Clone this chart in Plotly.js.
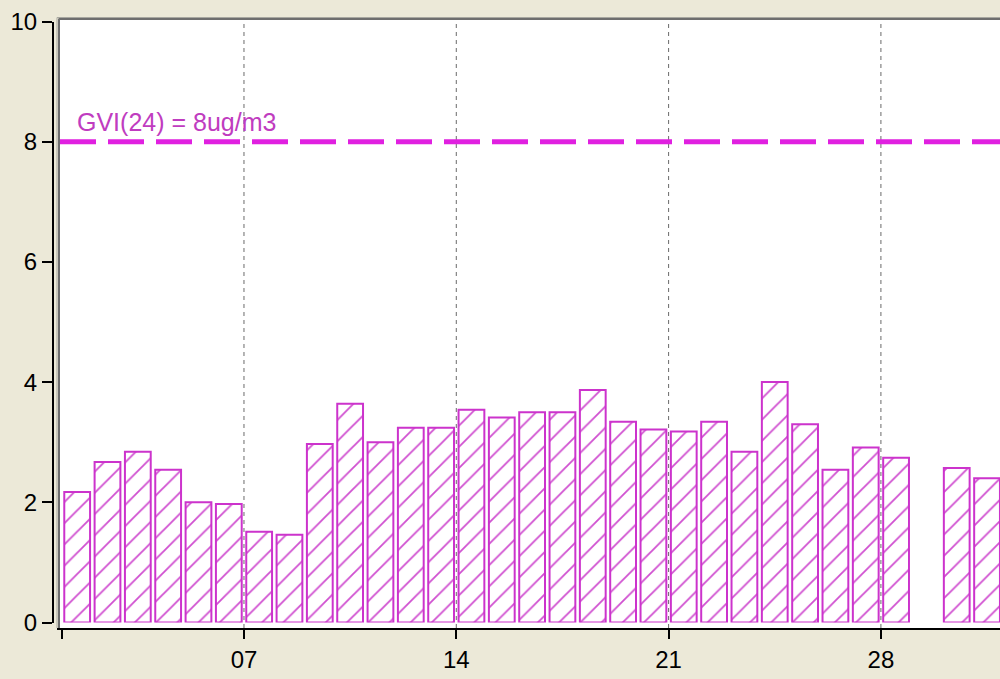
<!DOCTYPE html>
<html>
<head>
<meta charset="utf-8">
<script src="https://cdn.plot.ly/plotly-3.0.1.min.js"></script>
<style>
  html, body { margin: 0; padding: 0; background: #ECE9D8; overflow: hidden; }
  #chart { width: 1000px; height: 679px; }
</style>
</head>
<body>
<div id="chart"></div>
<script>
// ---- data ----
const days = [
  '2010-01-01','2010-01-02','2010-01-03','2010-01-04','2010-01-05','2010-01-06','2010-01-07',
  '2010-01-08','2010-01-09','2010-01-10','2010-01-11','2010-01-12','2010-01-13','2010-01-14',
  '2010-01-15','2010-01-16','2010-01-17','2010-01-18','2010-01-19','2010-01-20','2010-01-21',
  '2010-01-22','2010-01-23','2010-01-24','2010-01-25','2010-01-26','2010-01-27','2010-01-28',
  '2010-01-29','2010-01-30','2010-01-31'
];
const values = [
  2.17, 2.67, 2.84, 2.54, 2.00, 1.97, 1.51,
  1.46, 2.97, 3.64, 3.00, 3.24, 3.24, 3.54,
  3.41, 3.50, 3.50, 3.87, 3.34, 3.21, 3.18,
  3.34, 2.84, 4.00, 3.30, 2.54, 2.91, 2.74,
  null, 2.57, 2.40
];
const tickDates  = ['2010-01-01','2010-01-07','2010-01-14','2010-01-21','2010-01-28'];
const tickLabels = ['', '07', '14', '21', '28'];
const gridDates  = ['2010-01-07','2010-01-14','2010-01-21','2010-01-28'];
const yTicks = [0, 2, 4, 6, 8, 10];
const limitValue = 8;
const limitLabel = 'GVI(24) = 8ug/m3';

// ---- styling / layout helpers ----
const W = 1000, H = 679;
const ML = 53, MR = 0, MT = 10, MB = 50;
const PW = W - ML - MR, PH = H - MT - MB;
const px = x => (x - ML) / PW;            // pixel -> paper x
const py = y => (H - MB - y) / PH;        // pixel -> paper y
const DAY = 86400000;
const pxPerDay = 30.33;
const d0 = Date.parse('2010-01-01T00:00:00Z');
const iso = ms => new Date(ms).toISOString().replace('T', ' ').replace('Z', '');
const xStart = iso(d0 - (62 - 57) / pxPerDay * DAY);
const xEnd   = iso(d0 + (1000 - 62) / pxPerDay * DAY);

const magenta = '#CC33CC';
const FONT = 'Liberation Sans, Arial, sans-serif';

const trace = {
  type: 'bar',
  x: days,
  y: values,
  xperiod: DAY,
  xperiodalignment: 'middle',
  width: 0.85 * DAY,
  marker: {
    color: 'white',
    line: { color: magenta, width: 2 },
    pattern: { shape: '/', fgcolor: '#D050D0', bgcolor: 'white', size: 15, solidity: 0.12, fillmode: 'replace' }
  },
  hoverinfo: 'skip'
};

const shapes = [
  // white plot panel
  { type: 'rect', xref: 'paper', yref: 'paper', layer: 'below',
    x0: px(60), x1: 1.05, y0: py(628), y1: py(20), fillcolor: 'white', line: { width: 0 } },
  // sunken border top / left
  { type: 'line', xref: 'paper', yref: 'paper', layer: 'below',
    x0: px(57), x1: 1.05, y0: py(17.5), y1: py(17.5), line: { color: '#A8A8A0', width: 1 } },
  { type: 'line', xref: 'paper', yref: 'paper', layer: 'below',
    x0: px(57), x1: px(57), y0: py(628), y1: py(17.5), line: { color: '#A8A8A0', width: 1 } },
  { type: 'line', xref: 'paper', yref: 'paper', layer: 'below',
    x0: px(58.5), x1: 1.05, y0: py(19), y1: py(19), line: { color: '#6E6E6E', width: 2 } },
  { type: 'line', xref: 'paper', yref: 'paper', layer: 'below',
    x0: px(59), x1: px(59), y0: py(628), y1: py(19), line: { color: '#6E6E6E', width: 2 } }
];
gridDates.forEach(d => shapes.push({
  type: 'line', xref: 'x', yref: 'paper', layer: 'below',
  x0: d, x1: d, y0: py(628), y1: py(20),
  line: { color: '#6A6A6A', width: 1, dash: '4px,4px' }
}));
// limit line
shapes.push({
  type: 'line', xref: 'paper', yref: 'y', layer: 'above',
  x0: px(60), x1: 1.05, y0: limitValue, y1: limitValue,
  line: { color: '#E020E0', width: 5, dash: '36px,12px' }
});

const layout = {
  width: W, height: H,
  margin: { l: ML, r: MR, t: MT, b: MB, pad: 0 },
  paper_bgcolor: '#ECE9D8',
  plot_bgcolor: 'rgba(0,0,0,0)',
  showlegend: false,
  font: { family: FONT, size: 24, color: '#000000' },
  xaxis: {
    type: 'date',
    domain: [px(57), 1],
    anchor: 'free', position: 0,
    range: [xStart, xEnd],
    tickmode: 'array', tickvals: tickDates, ticktext: tickLabels,
    ticks: 'outside', ticklen: 9, tickwidth: 2, tickcolor: '#000',
    showline: true, linecolor: '#000', linewidth: 2,
    showgrid: false, zeroline: false,
    tickfont: { family: FONT, size: 24, color: '#000' },
    fixedrange: true
  },
  yaxis: {
    domain: [py(622.5), py(21.5)],
    anchor: 'free', position: 0,
    range: [0, 10],
    tickmode: 'array', tickvals: yTicks,
    ticks: 'outside', ticklen: 10, tickwidth: 2, tickcolor: '#000',
    showline: true, linecolor: '#000', linewidth: 2,
    showgrid: false, zeroline: false,
    tickfont: { family: FONT, size: 24, color: '#000' },
    fixedrange: true
  },
  shapes: shapes,
  annotations: [{
    xref: 'paper', yref: 'y', x: px(75), y: limitValue,
    xanchor: 'left', yanchor: 'middle', yshift: 20,
    text: limitLabel, showarrow: false,
    font: { family: FONT, size: 25, color: '#C03CC0' }
  }]
};

Plotly.newPlot('chart', [trace], layout, { displayModeBar: false, staticPlot: true });
</script>
</body>
</html>
